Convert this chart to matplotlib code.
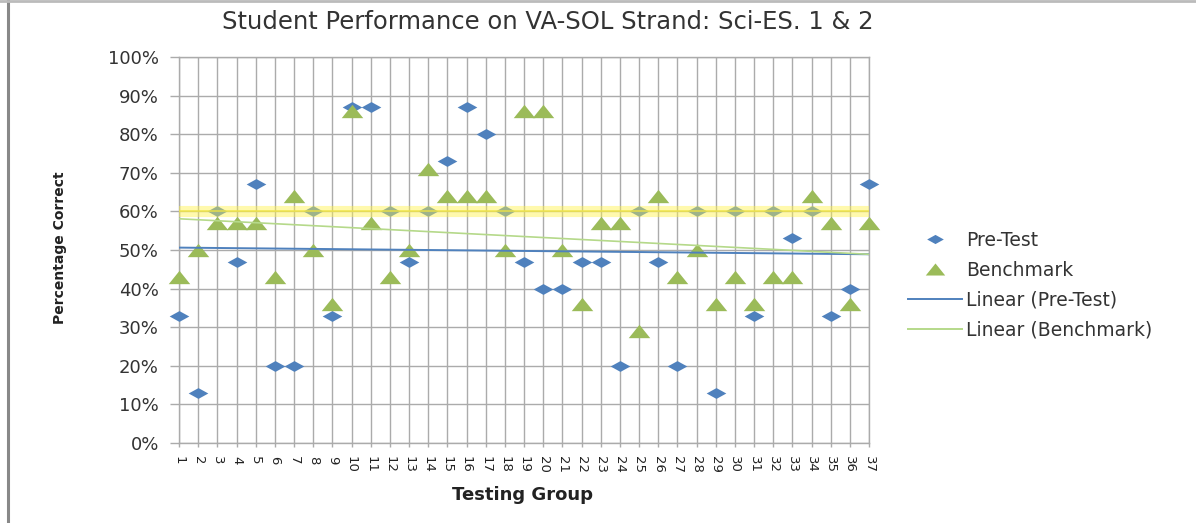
import numpy as np
import matplotlib
matplotlib.use("Agg")
import matplotlib.pyplot as plt
from matplotlib.path import Path
from matplotlib.lines import Line2D

# chart values
groups = list(range(1, 38))
pre_test = [33, 13, 60, 47, 67, 20, 20, 60, 33, 87, 87, 60, 47, 60, 73, 87, 80, 60, 47,
            40, 40, 47, 47, 20, 60, 47, 20, 60, 13, 60, 33, 60, 53, 60, 33, 40, 67]
benchmark = [43, 50, 57, 57, 57, 43, 64, 50, 36, 86, 57, 43, 50, 71, 64, 64, 64, 50, 86,
             86, 50, 36, 57, 57, 29, 64, 43, 50, 36, 43, 36, 43, 43, 64, 57, 36, 57]
target_line = 60
y_ticks = list(range(0, 101, 10))

blue = "#4F81BD"
green = "#9BBB59"
grid_col = "#ABABAB"

# flattened diamond / triangle markers (the original looks stretched sideways)
diamond = Path([(-1, 0), (0, 0.55), (1, 0), (0, -0.55), (-1, 0)],
               [Path.MOVETO, Path.LINETO, Path.LINETO, Path.LINETO, Path.CLOSEPOLY])
triangle = Path([(-1, -0.62), (1, -0.62), (0, 0.62), (-1, -0.62)],
                [Path.MOVETO, Path.LINETO, Path.LINETO, Path.CLOSEPOLY])

fig = plt.figure(figsize=(11.96, 5.23), dpi=100)
ax = fig.add_axes([179 / 1196, 1 - 443 / 523, 690 / 1196, 386 / 523])

x = np.array(groups)
ax.scatter(x, pre_test, marker=diamond, s=200, color=blue, zorder=3, linewidths=0,
           clip_on=False)
ax.scatter(x, benchmark, marker=triangle, s=240, color=green, zorder=3, linewidths=0,
           clip_on=False)

# linear trend lines
p1 = np.polyfit(x, pre_test, 1)
p2 = np.polyfit(x, benchmark, 1)
xs = np.array([x.min(), x.max()])
ax.plot(xs, np.polyval(p1, xs), color=blue, lw=1.4, zorder=4)
ax.plot(xs, np.polyval(p2, xs), color="#B5D98A", lw=1.2, zorder=4)

# highlighted 60% line
ax.axhline(target_line, color="#FFF24A", lw=8, alpha=0.45, zorder=5)
ax.axhline(target_line, color="#F2E640", lw=1.2, alpha=0.8, zorder=5)

ax.set_xlim(1, 37)
ax.set_ylim(0, 100)
ax.set_xticks(groups)
ax.set_xticklabels([str(g) for g in groups], rotation=270, fontsize=9.5,
                   color="#222222")
ax.set_yticks(y_ticks)
ax.set_yticklabels([f"{v}%" for v in y_ticks], fontsize=13, color="#333333")
ax.grid(True, color=grid_col, lw=1.0)
ax.set_axisbelow(True)
ax.tick_params(axis="y", direction="out", length=6.5, width=1, color=grid_col, pad=8)
ax.tick_params(axis="x", direction="out", length=3, width=1, color=grid_col, pad=6)
for s in ax.spines.values():
    s.set_color(grid_col)
    s.set_linewidth(1.0)

fig.text(548 / 1196, 1 - 22 / 523, "Student Performance on VA-SOL Strand: Sci-ES. 1 & 2",
         ha="center", va="center", fontsize=17.5, color="#333333")
fig.text(523 / 1196, 1 - 495 / 523, "Testing Group", ha="center", va="center",
         fontsize=13, fontweight="bold", color="#222222")
fig.text(60 / 1196, 1 - 248 / 523, "Percentage Correct", ha="center", va="center",
         rotation=90, fontsize=10, fontweight="bold", color="#222222")

handles = [
    Line2D([], [], ls="none", marker=diamond, markersize=12, color=blue, markeredgewidth=0),
    Line2D([], [], ls="none", marker=triangle, markersize=14, color=green, markeredgewidth=0),
    Line2D([], [], color=blue, lw=1.4),
    Line2D([], [], color="#B5D98A", lw=1.4),
]
labels = ["Pre-Test", "Benchmark", "Linear (Pre-Test)", "Linear (Benchmark)"]
fig.legend(handles, labels, loc="upper left", bbox_to_anchor=(891 / 1196, 1 - 214 / 523),
           frameon=False, fontsize=13.5, handlelength=2.9, handletextpad=0.2,
           labelspacing=0.58, labelcolor="#333333")

# frame lines at the left and top edge
fig.add_artist(Line2D([8 / 1196, 8 / 1196], [0, 1], color="#888888", lw=2.2))
fig.add_artist(Line2D([0, 1], [1 - 1 / 523, 1 - 1 / 523], color="#BBBBBB", lw=2))

fig.savefig("out.png", dpi=100)
